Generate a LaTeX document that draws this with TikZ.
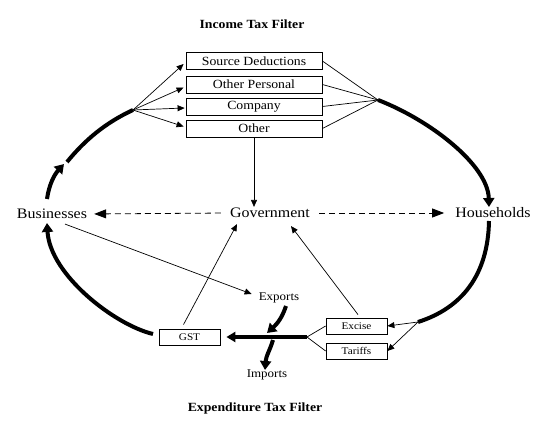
\documentclass[tikz,border=0pt]{standalone}
\usepackage{fontspec}
\setmainfont{Liberation Serif}
\newfontfamily\labf[FakeStretch=1.1]{Liberation Serif}
\usetikzlibrary{arrows.meta,calc}
\begin{document}
\begin{tikzpicture}[x=1pt,y=-1pt,
  box/.style={draw, line width=0.8pt, minimum width=136pt, minimum height=17pt, inner sep=0pt, font=\labf\fontsize{12.5}{13}\selectfont},
  sbox/.style={draw, line width=0.8pt, minimum width=61pt, minimum height=16pt, inner sep=0pt, font=\labf\fontsize{10.2}{11}\selectfont},
  lab/.style={font=\labf\fontsize{14.5}{15}\selectfont, inner sep=1pt},
  slab/.style={font=\labf\fontsize{11.8}{12}\selectfont, inner sep=1pt},
  ttl/.style={font=\labf\bfseries\fontsize{12.5}{13}\selectfont, inner sep=1pt},
  thn/.style={line width=0.7pt},
  thinarr/.style={thn, -{Triangle[length=7pt,width=6pt]}},
  thk/.style={line width=4pt},
  thkarr/.style={thk, -{Triangle[length=9pt,width=11pt]}},
  dasharr/.style={line width=0.8pt, dash pattern=on 6pt off 4pt, -{Triangle[length=12pt,width=9pt]}},
]
\useasboundingbox (0,0) rectangle (550,430);

% titles
\node[ttl] (t1) at (252,24) {Income Tax Filter};
\node[ttl] (t2) at (255,408) {Expenditure Tax Filter};

% income tax boxes
\node[box] (sd) at (254,61) {Source Deductions};
\node[box] (op) at (254,84.5) {Other Personal};
\node[box] (co) at (254,106.5) {Company};
\node[box] (ot) at (254,128.5) {Other};

% main labels
\node[lab] (bus) at (52,214) {Businesses};
\node[lab] (gov) at (270,213) {Government};
\node[lab] (hh) at (493,213) {Households};

% expenditure boxes
\node[sbox] (gst) at (189.5,337) {GST};
\node[sbox] (ex) at (356.5,326) {Excise};
\node[sbox] (ta) at (356.5,351) {Tariffs};

\node[slab] (exp) at (279,298) {Exports};
\node[slab] (imp) at (267,375) {Imports};

% junction points
\coordinate (fl) at (133,110);
\coordinate (fr) at (378,100);
\coordinate (rj) at (418,322);
\coordinate (jc) at (307,337);

% fan left
\draw[thinarr] (fl) -- ($(sd.west)+(-2,3)$);
\draw[thinarr] (fl) -- ($(op.west)+(-2,3)$);
\draw[thinarr] (fl) -- ($(co.west)+(-1,1.5)$);
\draw[thinarr] (fl) -- ($(ot.west)+(-2,-2)$);
% fan right
\draw[thn] (sd.east) -- (fr);
\draw[thn] (op.east) -- (fr);
\draw[thn] (co.east) -- (fr);
\draw[thn] (ot.east) -- (fr);

% Other -> Government
\draw[thinarr] (ot.south) -- (ot.south |- gov.north);

% dashed arrows
\draw[dasharr, shorten <=8pt, shorten >=6pt] (gov.west) -- (bus.east);
\draw[dasharr, shorten <=8pt, shorten >=10pt] (gov.east) -- (hh.west);

% thick loop
\draw[thk] (67,162) .. controls (85,140) and (105,123) .. (fl);
\draw[thkarr] (47,199) .. controls (49,185) and (54,175) .. (64,164);
\draw[thkarr] (fr) .. controls (430,120) and (488,165) .. (489,207);
\draw[thk] (489,221) .. controls (488,275) and (462,308) .. (rj);
\draw[thkarr] (153,334) .. controls (115,325) and (50,275) .. (47,223);

% right junction to Excise / Tariffs
\draw[thinarr] (rj) -- (ex.east);
\draw[thinarr] (rj) -- (ta.east);

% expenditure thick line
\draw[thk, -{Triangle[length=9pt,width=10pt]}, shorten >=6pt] (jc) -- (gst.east);
\draw[thn] (jc) -- (ex.west);
\draw[thn] (jc) -- (ta.west);

% exports / imports
\draw[thkarr] (286,306) .. controls (282,318) and (277,324) .. (267,333);
\draw[thkarr] (273,340) .. controls (270,350) and (266,356) .. (265,370);

% thin arrows to exports and government
\draw[thinarr] ($(bus.south)+(13,4)$) -- ($(exp.west)+(-6,-4)$);
\draw[thinarr] ($(gst.north)+(-6,-4)$) -- ($(gov.south)+(-33,5)$);
\draw[thinarr] ($(ex.north)+(1.5,-3)$) -- ($(gov.south)+(21,7)$);
\end{tikzpicture}
\end{document}
